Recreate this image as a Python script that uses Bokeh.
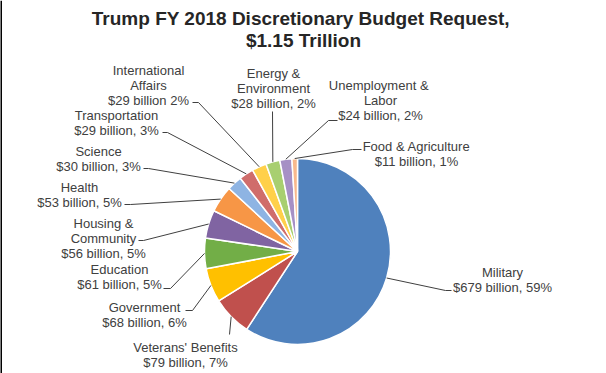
import numpy as np
from bokeh.plotting import figure
from bokeh.models import Range1d, ColumnDataSource
from bokeh.core.properties import value
from bokeh.embed import file_html
from bokeh.resources import INLINE

# ---- data ----
categories = ["Military", "Veterans' Benefits", "Government", "Education",
              "Housing & Community", "Health", "Science", "Transportation",
              "International Affairs", "Energy & Environment",
              "Unemployment & Labor", "Food & Agriculture"]
billions = [679, 79, 68, 61, 56, 53, 30, 29, 29, 28, 24, 11]
label_lines = [
    ["Military", "$679 billion, 59%"],
    ["Veterans' Benefits", "$79 billion, 7%"],
    ["Government", "$68 billion, 6%"],
    ["Education", "$61 billion, 5%"],
    ["Housing &", "Community", "$56 billion, 5%"],
    ["Health", "$53 billion, 5%"],
    ["Science", "$30 billion, 3%"],
    ["Transportation", "$29 billion, 3%"],
    ["International", "Affairs", "$29 billion 2%"],
    ["Energy &", "Environment", "$28 billion, 2%"],
    ["Unemployment  &", "Labor", "$24 billion, 2%"],
    ["Food & Agriculture", "$11 billion, 1%"],
]
title_lines = ["Trump FY 2018 Discretionary  Budget Request,", "$1.15 Trillion"]

# ---- styles / layout ----
colors = ["#4F81BD", "#C0504D", "#FFC000", "#72AE47", "#8064A2", "#F79646",
          "#8EB4E3", "#D06D6B", "#FFD04A", "#A8CF70", "#A690C5", "#F8B98C"]
W, H = 606, 373
def Y(y):  # convert top-down pixel position to data y
    return H - y

cx, cy, R = 297, 251, 93
label_cx = [502, 185, 144, 119, 103, 79, 98, 116, 148, 273, 380, 416]
label_y0 = [272, 347, 307, 269, 223, 187, 151, 115, 70, 73, 85, 146]
elbow = [(445, 290), (229, 334), (192, 310), (170, 288), (143, 240), (130, 204),
         (148, 168), (167, 132), (198, 102), (272, 111), (328, 120), (352, 149)]
tick_end_x = [451, 229, 185, 163, 138, 124, 143, 162, 192, 272, 337, 361]
line_h = 15

p = figure(width=W, height=H, x_range=Range1d(0, W), y_range=Range1d(0, H),
           output_backend="svg", toolbar_location=None, min_border=0)
p.axis.visible = False
p.grid.visible = False
p.outline_line_color = None
p.background_fill_color = "white"
p.border_fill_color = "white"

vals = np.array(billions, dtype=float)
frac = vals / vals.sum()
cum = np.concatenate([[0], np.cumsum(frac)])
start = np.pi / 2 - cum[1:] * 2 * np.pi
end = np.pi / 2 - cum[:-1] * 2 * np.pi
mid = (start + end) / 2

src = ColumnDataSource(dict(start=start, end=end, color=colors, cat=categories))
p.wedge(x=cx, y=Y(cy), radius=R, start_angle="start", end_angle="end",
        fill_color="color", line_color="white", line_width=1.5, source=src)

# leader lines
xs, ys = [], []
for i in range(len(billions)):
    px = cx + R * np.cos(mid[i])
    py = Y(cy) + R * np.sin(mid[i])
    ex, ey = elbow[i]
    xs.append([px, ex, tick_end_x[i]])
    ys.append([py, Y(ey), Y(ey)])
p.multi_line(xs=xs, ys=ys, line_color="#404040", line_width=1)

# labels
tx, ty, tt = [], [], []
for i, lines in enumerate(label_lines):
    for j, s in enumerate(lines):
        tx.append(label_cx[i])
        ty.append(Y(label_y0[i] + j * line_h))
        tt.append(s)
p.text(x=tx, y=ty, text=tt, text_font=value("Liberation Sans"), text_font_size="13px",
       text_color="#404040", text_align="center", text_baseline="middle")

# left border line
p.segment(x0=[0.5], y0=[0], x1=[0.5], y1=[H], line_color="black", line_width=2)

# title
p.text(x=[303, 303], y=[Y(18), Y(40)], text=title_lines, text_font=value("Liberation Sans"),
       text_font_size="19px", text_font_style="bold", text_color="#262626",
       text_align="center", text_baseline="alphabetic")

open("out.html", "w").write(file_html(p, INLINE))
